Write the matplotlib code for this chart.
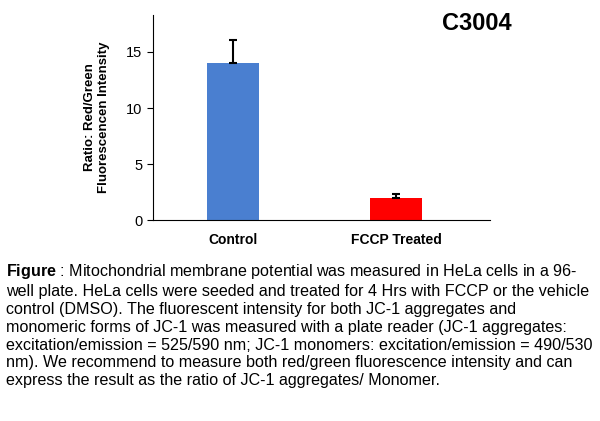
import matplotlib
matplotlib.use("Agg")
import matplotlib.pyplot as plt

categories = ["Control", "FCCP Treated"]
values = [14.0, 2.0]
errors = [2.1, 0.3]
colors = ["#4a7fd0", "#ff0000"]
yticks = [0, 5, 10, 15]

plt.rcParams['font.family'] = ['Liberation Sans', 'DejaVu Sans']
plt.rcParams['mathtext.fontset'] = 'custom'
plt.rcParams['mathtext.bf'] = 'Liberation Sans:bold'
plt.rcParams['mathtext.rm'] = 'Liberation Sans'
fig = plt.figure(figsize=(6, 4.21), dpi=100)
ax = fig.add_axes([0.255, 0.4774, 0.562, 0.4869])
x = list(range(len(categories)))
ax.bar(x, values, width=0.32, color=colors)
ax.errorbar(x, values, yerr=[[0]*len(errors), errors], fmt='none', ecolor='black',
            capsize=3, elinewidth=1.5, capthick=1.5)
ax.set_xlim(-0.49, 1.577)
ax.set_ylim(0, 18.3)
ax.set_yticks(yticks)
ax.set_xticks(x)
ax.set_xticklabels(categories, fontweight='bold', fontsize=10)
ax.tick_params(axis='y', labelsize=10.5, length=4)
ax.tick_params(axis='x', length=0, pad=9)
for s in ['top', 'right']:
    ax.spines[s].set_visible(False)
ax.set_ylabel("Ratio: Red/Green\nFluorescencen Intensity", fontweight='bold', fontsize=9.5, labelpad=12)
fig.text(0.795, 0.945, "C3004", fontsize=17, fontweight='bold', ha='center', va='center')
caption = ("$\\bf{Figure}$ : Mitochondrial membrane potential was measured in HeLa cells in a 96-\n"
           "well plate. HeLa cells were seeded and treated for 4 Hrs with FCCP or the vehicle\n"
           "control (DMSO). The fluorescent intensity for both JC-1 aggregates and\n"
           "monomeric forms of JC-1 was measured with a plate reader (JC-1 aggregates:\n"
           "excitation/emission = 525/590 nm; JC-1 monomers: excitation/emission = 490/530\n"
           "nm). We recommend to measure both red/green fluorescence intensity and can\n"
           "express the result as the ratio of JC-1 aggregates/ Monomer.")
fig.text(0.01, 1 - 262/421, caption, fontsize=11.6, ha='left', va='top', linespacing=1.24)
fig.savefig("out.png", dpi=100)
